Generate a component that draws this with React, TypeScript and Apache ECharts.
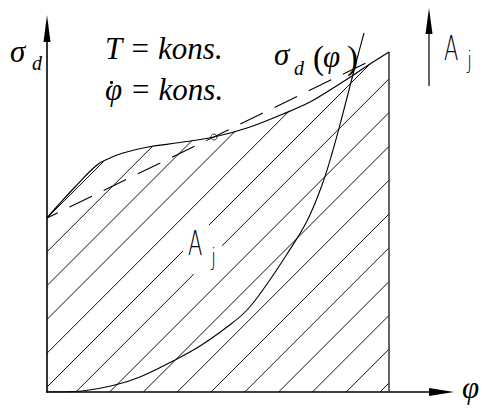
import React, { useEffect, useRef } from "react";
import * as echarts from "echarts";

// Axes are scaled 1 unit = 1 px, origin at the corner of the two arrows.
// Stress curve sigma_d(phi)
const sigmaPhi = [0, 11, 28, 50, 63, 76, 101, 133, 167, 200, 236, 263, 283, 305, 323, 342];
const sigmaVal = [174, 186.5, 205, 227, 234, 239, 245, 249.5, 255, 264, 278, 290, 302, 316, 328, 340];

// Accumulated work A_j(phi)
const workPhi = [0, 28, 66, 93, 126, 153, 180, 200, 220, 240, 260, 275, 286, 295, 303, 310, 317];
const workVal = [0, 0.5, 6.5, 15, 31, 46, 65, 82, 108, 138, 171, 207, 242, 275, 306, 333, 359];

// Secant through the ends of sigma_d(phi) (mean stress)
const secantPhi = [0, 323];
const secantVal = [174, 331];

// Point where the curve crosses its mean value
const meanPhi = [167];
const meanVal = [255];

// Right border of the hatched area
const phiEnd = 342;

// Hatching: 45° lines, spacing and first offset along the phi axis
const HATCH_STEP = 33.8;
const HATCH_FIRST = -174;

const X_MAX = 394.5;
const Y_MAX = 363.5;

function sigmaAt(x: number): number {
  for (let i = 1; i < sigmaPhi.length; i++) {
    if (x <= sigmaPhi[i]) {
      const t = (x - sigmaPhi[i - 1]) / (sigmaPhi[i] - sigmaPhi[i - 1]);
      return sigmaVal[i - 1] + t * (sigmaVal[i] - sigmaVal[i - 1]);
    }
  }
  return sigmaVal[sigmaVal.length - 1];
}

// each hatch line runs from the axes up to the curve or the right border
function hatchSegments(): number[][][] {
  const out: number[][][] = [];
  for (let k = HATCH_FIRST; k < phiEnd; k += HATCH_STEP) {
    const x0 = Math.max(0, k);
    let x1 = phiEnd;
    for (let x = x0 + 0.5; x <= phiEnd; x += 0.25) {
      if (x - k >= sigmaAt(x)) {
        x1 = x;
        break;
      }
    }
    out.push([[x0, x0 - k], [x1, x1 - k]]);
  }
  return out;
}

const zip = (a: number[], b: number[]) => a.map((v, i) => [v, b[i]]);

const SERIF = '"Liberation Serif", "Times New Roman", serif';
const SANS = '"DejaVu Sans", sans-serif';

function label(
  text: string,
  left: number,
  baseline: number,
  size: number,
  opts: { family?: string; italic?: boolean; weight?: number; scaleX?: number } = {}
) {
  const family = opts.family ?? SERIF;
  return {
    type: "text",
    x: left,
    y: baseline - 0.34 * size,
    scaleX: opts.scaleX ?? 1,
    z: 20,
    style: {
      text,
      x: 0,
      y: 0,
      font: `${opts.italic ? "italic" : "normal"} ${opts.weight ?? 400} ${size}px ${family}`,
      fill: "#000",
      align: "left",
      verticalAlign: "middle",
      textAlign: "left",
      textVerticalAlign: "middle",
    },
  };
}

export default function App() {
  const ref = useRef<HTMLDivElement>(null);

  useEffect(() => {
    if (!ref.current) return;
    const chart = echarts.init(ref.current, undefined, { renderer: "svg" });

    const axisCommon = {
      type: "value" as const,
      min: 0,
      splitLine: { show: false },
      axisTick: { show: false },
      axisLabel: { show: false },
    };

    const hatchSeries = hatchSegments().map((seg) => ({
      type: "line" as const,
      data: seg,
      symbol: "none",
      silent: true,
      lineStyle: { color: "#111", width: 1 },
      z: 1,
    }));

    chart.setOption({
      animation: false,
      backgroundColor: "#fff",
      grid: { left: 47, top: 408 - 16 - Y_MAX, width: X_MAX, height: Y_MAX },
      xAxis: {
        ...axisCommon,
        max: X_MAX,
        axisLine: {
          show: true,
          symbol: ["none", "triangle"],
          symbolSize: [8, 25],
          lineStyle: { color: "#000", width: 1.6 },
        },
      },
      yAxis: {
        ...axisCommon,
        max: Y_MAX,
        axisLine: {
          show: true,
          symbol: ["none", "triangle"],
          symbolSize: [7, 27],
          lineStyle: { color: "#000", width: 1.6 },
        },
      },
      series: [
        ...hatchSeries,
        {
          type: "line",
          data: [[phiEnd, 0], [phiEnd, sigmaVal[sigmaVal.length - 1]]],
          symbol: "none",
          lineStyle: { color: "#333", width: 1.5 },
        },
        {
          type: "line",
          data: zip(sigmaPhi, sigmaVal),
          smooth: 0.4,
          symbol: "none",
          lineStyle: { color: "#000", width: 1.2 },
        },
        {
          type: "line",
          data: zip(workPhi, workVal),
          smooth: 0.4,
          symbol: "none",
          lineStyle: { color: "#000", width: 1.1 },
        },
        {
          type: "line",
          data: zip(secantPhi, secantVal),
          symbol: "none",
          lineStyle: { color: "#000", width: 1.1, type: [25, 13], dashOffset: 12.7 },
        },
        {
          type: "scatter",
          data: zip(meanPhi, meanVal),
          symbol: "circle",
          symbolSize: 6,
          itemStyle: { color: "rgba(255,255,255,0)", borderColor: "#000", borderWidth: 1 },
          z: 5,
        },
      ],
      graphic: [
        // clear the hatching behind the area label
        {
          type: "rect",
          z: 15,
          shape: { x: 183, y: 225, width: 39, height: 49 },
          style: { fill: "#fff" },
        },
        label("A", 188, 255, 34, { family: SANS, weight: 200, scaleX: 0.62 }),
        label("j", 211, 265, 23, { family: SANS, weight: 200, scaleX: 0.8 }),

        // arrow for A_j
        {
          type: "line",
          z: 20,
          shape: { x1: 429, y1: 86, x2: 429, y2: 30 },
          style: { stroke: "#000", lineWidth: 1.2 },
        },
        {
          type: "polygon",
          z: 20,
          shape: { points: [[429, 8], [425.5, 34], [432.5, 34]] },
          style: { fill: "#000" },
        },
        label("A", 444, 60, 34, { family: SANS, weight: 200, scaleX: 0.62 }),
        label("j", 467, 68, 23, { family: SANS, weight: 200, scaleX: 0.8 }),

        // axis names
        label("σ", 10, 62, 31, { italic: true }),
        label("d", 32, 70, 20, { italic: true }),
        label("φ", 462, 398, 31, { italic: true }),

        // conditions
        label("T = kons.", 105, 59, 31, { italic: true }),
        label("φ = kons.", 105, 100, 31, { italic: true }),
        // time-derivative dot over phi
        {
          type: "circle",
          z: 20,
          shape: { cx: 111.5, cy: 82.5, r: 1.6 },
          style: { fill: "#000" },
        },

        // curve name
        label("σ", 274, 65, 31, { italic: true }),
        label("d", 294, 75, 20, { italic: true }),
        label("(", 313, 69, 33),
        label("φ", 323, 67, 31, { italic: true }),
        label(")", 347, 69, 33),
      ],
    });

    return () => chart.dispose();
  }, []);

  return (
    <div
      ref={ref}
      style={{ position: "fixed", left: 0, top: 0, width: 483, height: 408, background: "#fff" }}
    />
  );
}
